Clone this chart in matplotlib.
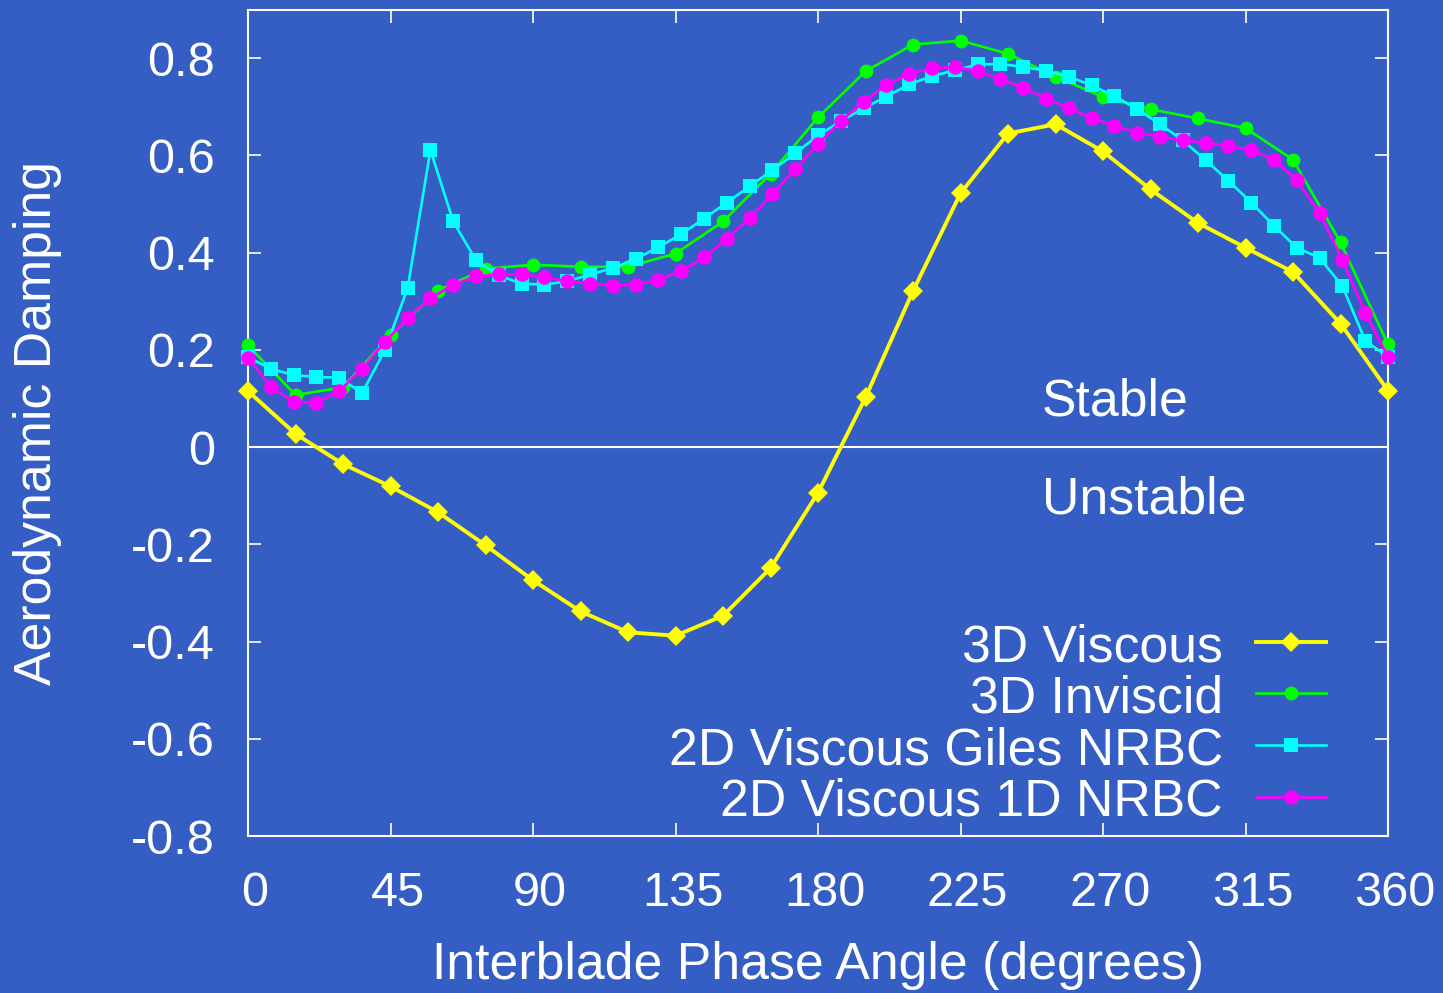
import numpy as np
import matplotlib
matplotlib.use("Agg")
import matplotlib.pyplot as plt
from matplotlib.transforms import ScaledTranslation

# interblade phase angles (deg)
ibpa_coarse = np.arange(0, 361, 15)
ibpa_fine = np.linspace(0, 360, 51)

visc_3d = [0.115, 0.027, -0.035, -0.081, -0.134, -0.202, -0.274, -0.338, -0.381,
           -0.388, -0.347, -0.249, -0.094, 0.102, 0.321, 0.522, 0.645, 0.664,
           0.608, 0.530, 0.461, 0.410, 0.360, 0.254, 0.116]

invisc_3d = [0.209, 0.107, 0.123, 0.230, 0.322, 0.367, 0.375, 0.371, 0.371,
             0.398, 0.464, 0.562, 0.678, 0.773, 0.828, 0.836, 0.809, 0.762,
             0.720, 0.695, 0.676, 0.656, 0.591, 0.421, 0.211]

visc_2d_giles = [0.185, 0.161, 0.148, 0.144, 0.143, 0.111, 0.199, 0.327, 0.611, 0.464,
                 0.384, 0.353, 0.336, 0.334, 0.341, 0.355, 0.368, 0.387, 0.411, 0.438,
                 0.470, 0.503, 0.536, 0.570, 0.604, 0.641, 0.670, 0.697, 0.721, 0.746,
                 0.763, 0.775, 0.787, 0.788, 0.782, 0.774, 0.762, 0.744, 0.722, 0.695,
                 0.664, 0.631, 0.590, 0.548, 0.503, 0.455, 0.410, 0.389, 0.331, 0.219,
                 0.185]

visc_2d_1d = [0.184, 0.124, 0.093, 0.091, 0.115, 0.161, 0.216, 0.266, 0.306, 0.334,
              0.351, 0.355, 0.355, 0.349, 0.341, 0.336, 0.332, 0.334, 0.344, 0.362,
              0.390, 0.428, 0.471, 0.520, 0.572, 0.623, 0.671, 0.710, 0.745, 0.768,
              0.779, 0.782, 0.773, 0.757, 0.739, 0.717, 0.697, 0.677, 0.660, 0.647,
              0.638, 0.631, 0.626, 0.619, 0.611, 0.591, 0.549, 0.481, 0.385, 0.276,
              0.185]

series = [
    ("3D Viscous", ibpa_coarse, visc_3d, "#ffff00", "D", 10.0, 2.8),
    ("3D Inviscid", ibpa_coarse, invisc_3d, "#00ff00", "o", 10.0, 1.9),
    ("2D Viscous Giles NRBC", ibpa_fine, visc_2d_giles, "#00ffff", "s", 10.5, 1.9),
    ("2D Viscous 1D NRBC", ibpa_fine, visc_2d_1d, "#ff00ff", "o", 10.5, 1.9),
]

xticks = [0, 45, 90, 135, 180, 225, 270, 315, 360]
yticks = [-0.8, -0.6, -0.4, -0.2, 0, 0.2, 0.4, 0.6, 0.8]
ytick_labels = ["-0.8", "-0.6", "-0.4", "-0.2", "0", "0.2", "0.4", "0.6", "0.8"]

bg = "#345ec4"
fs_tick = 35
fs = 37.3
plt.rcParams["font.family"] = ["Liberation Sans", "DejaVu Sans"]

fig = plt.figure(figsize=(14.43, 9.93), dpi=100, facecolor=bg)
ax = fig.add_axes([0.1719, 0.1581, 0.79, 0.8323], facecolor=bg)

ax.axhline(0, color="white", lw=1.5, zorder=1)

for name, x, y, c, m, ms, lw in series:
    ax.plot(x, y, color=c, marker=m, ms=ms, lw=lw, mew=0, clip_on=False, zorder=3)

ax.set_xlim(0, 360)
ax.set_ylim(-0.8, 0.9)
ax.set_xticks(xticks)
ax.set_xticklabels([str(t) for t in xticks])
ax.set_yticks(yticks)
ax.set_yticklabels(ytick_labels)
ax.tick_params(direction="in", length=9.5, width=1.2, colors="white",
               labelsize=fs_tick, top=True, right=True)
ax.tick_params(axis="x", pad=25)
ax.tick_params(axis="y", pad=24)
for lbl in ax.get_xticklabels():
    lbl.set_transform(lbl.get_transform() + ScaledTranslation(7 / 100, 0, fig.dpi_scale_trans))
for sp in ax.spines.values():
    sp.set_color("white")
    sp.set_linewidth(1.5)

fig.text(818 / 1443, 1 - 965 / 993, "Interblade Phase Angle (degrees)", color="white",
         fontsize=fs, ha="center", va="center")
fig.text(38 / 1443, 1 - 423 / 993, "Aerodynamic Damping", color="white",
         fontsize=fs, ha="center", va="center", rotation=90)

ax.text(0.6965, 0.5088, "Stable", color="white", fontsize=fs, transform=ax.transAxes,
        ha="left", va="baseline")
ax.text(0.6965, 0.3908, "Unstable", color="white", fontsize=fs, transform=ax.transAxes,
        ha="left", va="baseline")

# key: right-aligned labels with line samples on the right
row_y = [0.2347, 0.1730, 0.1101, 0.0472]
for (name, x, y, c, m, ms, lw), ry in zip(series, row_y):
    ax.text(0.8553, ry, name, color="white", fontsize=fs, transform=ax.transAxes,
            ha="right", va="center_baseline")
    ax.plot([0.884, 0.9456], [ry, ry], color=c, lw=lw, transform=ax.transAxes, clip_on=False)
    ax.plot([0.915], [ry], color=c, marker=m, ms=ms, mew=0, transform=ax.transAxes,
            clip_on=False)

fig.savefig("out.png", dpi=100, facecolor=bg)
